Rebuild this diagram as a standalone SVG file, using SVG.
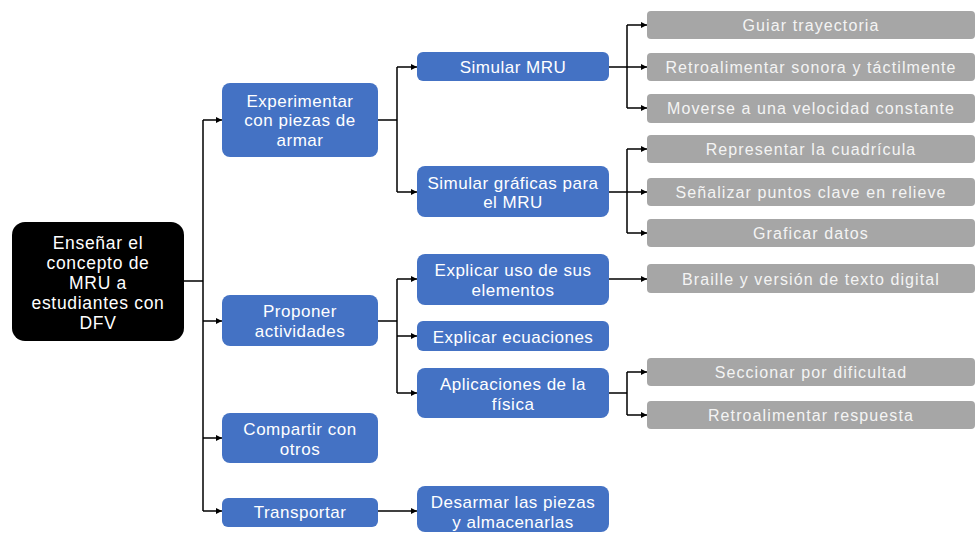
<svg xmlns="http://www.w3.org/2000/svg" width="977" height="533" viewBox="0 0 977 533">
  <defs>
    <marker id="arrow" viewBox="0 0 10 10" refX="10" refY="5" markerWidth="6" markerHeight="6" markerUnits="userSpaceOnUse" orient="auto">
      <path d="M0 0 L10 5 L0 10 Z" fill="#000"/>
    </marker>
  </defs>
  <style>
    .root { fill: #000; }
    .blue { fill: #4472C4; }
    .gray { fill: #A6A6A6; }
    text { font-family: "Liberation Sans", Arial, sans-serif; fill: #fff; text-anchor: middle; dominant-baseline: central; }
    .t0 { font-size: 17.5px; letter-spacing: 0.7px; }
    .t1 { font-size: 17px; letter-spacing: 0.5px; }
    .t3 { font-size: 16px; letter-spacing: 1.1px; fill: #F4F4F4; }
    .wire { fill: none; stroke: #000; stroke-width: 1.5; }
    .arr { fill: none; stroke: #000; stroke-width: 1.5; marker-end: url(#arrow); }
  </style>
  <rect width="977" height="533" fill="#fff"/>

  <!-- connectors -->
  <g id="connectors">
    <path class="wire" d="M184 281 H203 M203 120 V511"/>
    <path class="arr" d="M203 120 H222"/>
    <path class="arr" d="M203 321 H222"/>
    <path class="arr" d="M203 438 H222"/>
    <path class="arr" d="M203 511 H222"/>

    <path class="wire" d="M378 120 H397 M397 67 V192"/>
    <path class="arr" d="M397 67 H417"/>
    <path class="arr" d="M397 192 H417"/>

    <path class="wire" d="M609 67 H627 M627 25 V108"/>
    <path class="arr" d="M627 25 H647"/>
    <path class="arr" d="M627 67 H647"/>
    <path class="arr" d="M627 108 H647"/>

    <path class="wire" d="M609 192 H627 M627 149 V233"/>
    <path class="arr" d="M627 149 H647"/>
    <path class="arr" d="M627 192 H647"/>
    <path class="arr" d="M627 233 H647"/>

    <path class="wire" d="M378 321 H397 M397 279 V393"/>
    <path class="arr" d="M397 279 H417"/>
    <path class="arr" d="M397 336 H417"/>
    <path class="arr" d="M397 393 H417"/>

    <path class="arr" d="M609 279 H647"/>

    <path class="wire" d="M609 393 H627 M627 372 V415"/>
    <path class="arr" d="M627 372 H647"/>
    <path class="arr" d="M627 415 H647"/>

    <path class="arr" d="M378 511 H417"/>
  </g>

  <!-- root -->
  <g id="n-root">
    <rect class="root" x="12" y="222" width="172" height="119" rx="13"/>
    <text class="t0" x="98" y="243">Enseñar el</text>
    <text class="t0" x="98" y="263">concepto de</text>
    <text class="t0" x="98" y="283">MRU a</text>
    <text class="t0" x="98" y="303">estudiantes con</text>
    <text class="t0" x="98" y="323">DFV</text>
  </g>

  <!-- first level -->
  <g id="n-experimentar">
    <rect class="blue" x="222" y="83" width="156" height="74" rx="8"/>
    <text class="t1" x="300" y="101">Experimentar</text>
    <text class="t1" x="300" y="120">con piezas de</text>
    <text class="t1" x="300" y="140">armar</text>
  </g>
  <g id="n-proponer">
    <rect class="blue" x="222" y="295" width="156" height="51" rx="8"/>
    <text class="t1" x="300" y="311">Proponer</text>
    <text class="t1" x="300" y="331">actividades</text>
  </g>
  <g id="n-compartir">
    <rect class="blue" x="222" y="413" width="156" height="50" rx="8"/>
    <text class="t1" x="300" y="429">Compartir con</text>
    <text class="t1" x="300" y="449">otros</text>
  </g>
  <g id="n-transportar">
    <rect class="blue" x="222" y="498" width="156" height="29" rx="6"/>
    <text class="t1" x="300" y="512">Transportar</text>
  </g>

  <!-- second level -->
  <g id="n-simular-mru">
    <rect class="blue" x="417" y="52" width="192" height="29" rx="6"/>
    <text class="t1" x="513" y="67">Simular MRU</text>
  </g>
  <g id="n-simular-graficas">
    <rect class="blue" x="417" y="166" width="192" height="51" rx="8"/>
    <text class="t1" x="513" y="183">Simular gráficas para</text>
    <text class="t1" x="513" y="202">el MRU</text>
  </g>
  <g id="n-explicar-uso">
    <rect class="blue" x="417" y="254" width="192" height="51" rx="8"/>
    <text class="t1" x="513" y="270">Explicar uso de sus</text>
    <text class="t1" x="513" y="290">elementos</text>
  </g>
  <g id="n-explicar-ecuaciones">
    <rect class="blue" x="417" y="321" width="192" height="30" rx="6"/>
    <text class="t1" x="513" y="337">Explicar ecuaciones</text>
  </g>
  <g id="n-aplicaciones">
    <rect class="blue" x="417" y="368" width="192" height="50" rx="8"/>
    <text class="t1" x="513" y="384">Aplicaciones de la</text>
    <text class="t1" x="513" y="404">física</text>
  </g>
  <g id="n-desarmar">
    <rect class="blue" x="417" y="486" width="192" height="46" rx="8"/>
    <text class="t1" x="513" y="502">Desarmar las piezas</text>
    <text class="t1" x="513" y="522">y almacenarlas</text>
  </g>

  <!-- third level -->
  <g id="n-guiar">
    <rect class="gray" x="647" y="11" width="328" height="28" rx="4"/>
    <text class="t3" x="811" y="25">Guiar trayectoria</text>
  </g>
  <g id="n-retro-sonora">
    <rect class="gray" x="647" y="53" width="328" height="28" rx="4"/>
    <text class="t3" x="811" y="67">Retroalimentar sonora y táctilmente</text>
  </g>
  <g id="n-moverse">
    <rect class="gray" x="647" y="94" width="328" height="29" rx="4"/>
    <text class="t3" x="811" y="108">Moverse a una velocidad constante</text>
  </g>
  <g id="n-representar">
    <rect class="gray" x="647" y="135" width="328" height="28" rx="4"/>
    <text class="t3" x="811" y="149">Representar la cuadrícula</text>
  </g>
  <g id="n-senalizar">
    <rect class="gray" x="647" y="178" width="328" height="28" rx="4"/>
    <text class="t3" x="811" y="192">Señalizar puntos clave en relieve</text>
  </g>
  <g id="n-graficar">
    <rect class="gray" x="647" y="219" width="328" height="28" rx="4"/>
    <text class="t3" x="811" y="233">Graficar datos</text>
  </g>
  <g id="n-braille">
    <rect class="gray" x="647" y="264" width="328" height="29" rx="4"/>
    <text class="t3" x="811" y="279">Braille y versión de texto digital</text>
  </g>
  <g id="n-seccionar">
    <rect class="gray" x="647" y="358" width="328" height="28" rx="4"/>
    <text class="t3" x="811" y="372">Seccionar por dificultad</text>
  </g>
  <g id="n-retro-respuesta">
    <rect class="gray" x="647" y="401" width="328" height="28" rx="4"/>
    <text class="t3" x="811" y="415">Retroalimentar respuesta</text>
  </g>
</svg>
